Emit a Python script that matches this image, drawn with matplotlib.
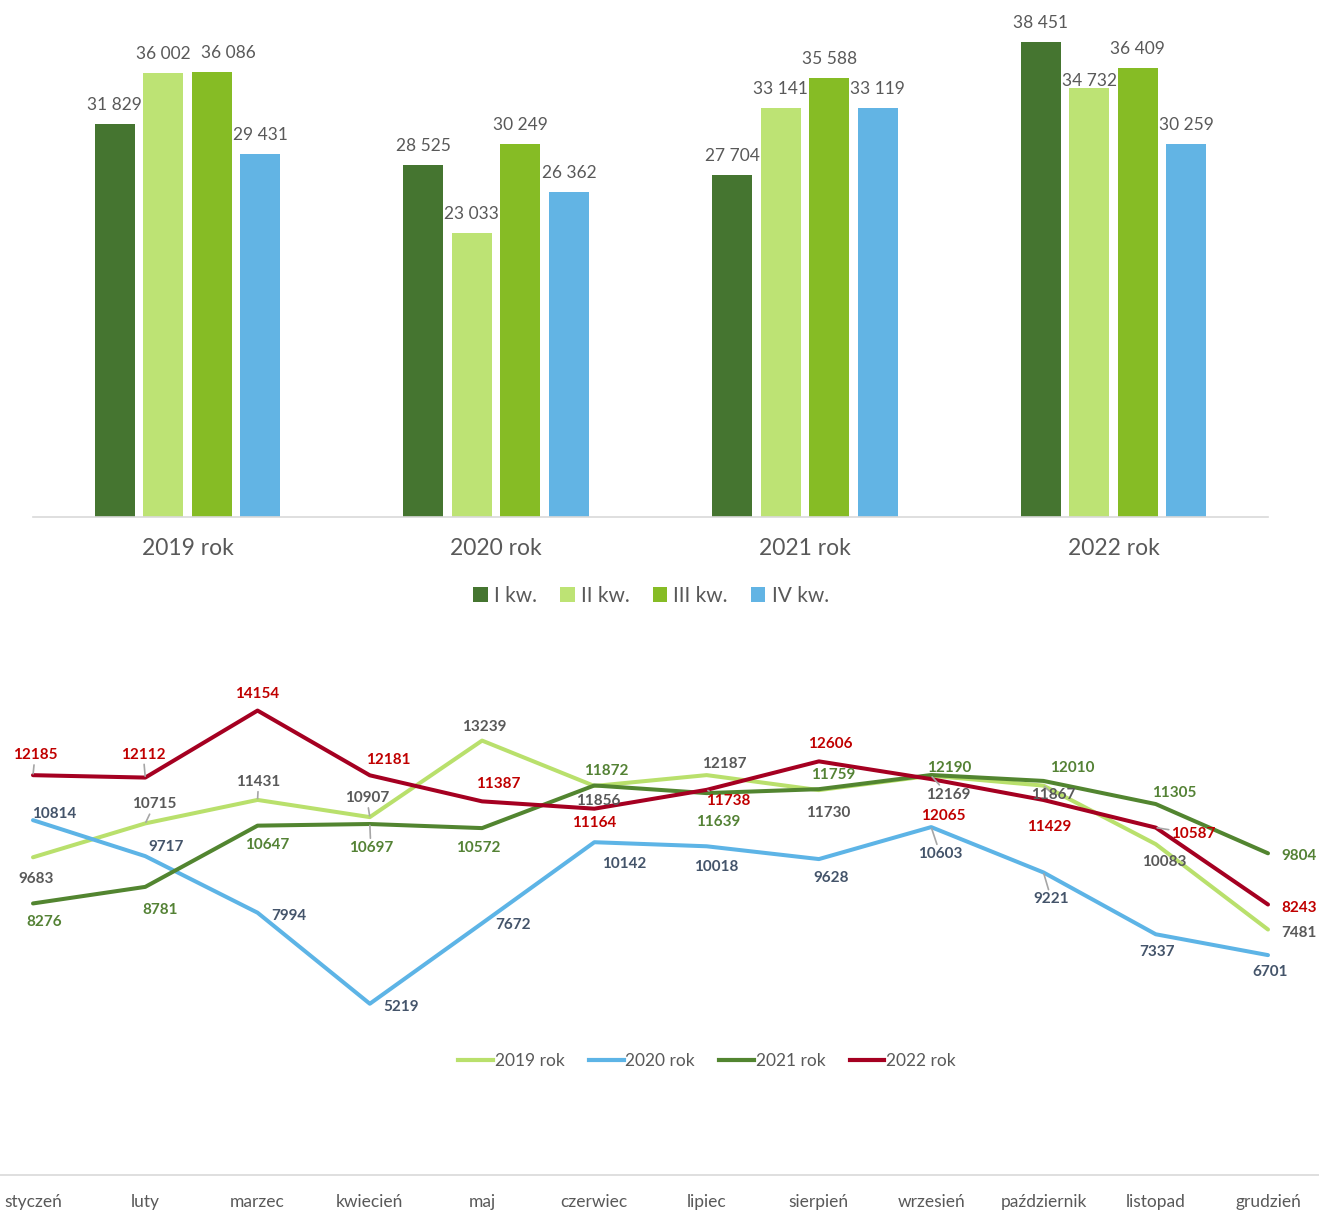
import matplotlib
matplotlib.use("Agg")
import matplotlib.pyplot as plt
import numpy as np
from matplotlib.lines import Line2D
from matplotlib.patches import Patch

plt.rcParams['font.family'] = ['Lato', 'DejaVu Sans']

# ---------------- data ----------------
years = ["2019 rok", "2020 rok", "2021 rok", "2022 rok"]
quarters = ["I kw.", "II kw.", "III kw.", "IV kw."]
q1 = [31829, 28525, 27704, 38451]
q2 = [36002, 23033, 33141, 34732]
q3 = [36086, 30249, 35588, 36409]
q4 = [29431, 26362, 33119, 30259]

months = ["styczeń", "luty", "marzec", "kwiecień", "maj", "czerwiec", "lipiec",
          "sierpień", "wrzesień", "październik", "listopad", "grudzień"]
y2019 = [9683, 10715, 11431, 10907, 13239, 11856, 12187, 11730, 12169, 11867, 10083, 7481]
y2020 = [10814, 9717, 7994, 5219, 7672, 10142, 10018, 9628, 10603, 9221, 7337, 6701]
y2021 = [8276, 8781, 10647, 10697, 10572, 11872, 11639, 11759, 12190, 12010, 11305, 9804]
y2022 = [12185, 12112, 14154, 12181, 11387, 11164, 11738, 12606, 12065, 11429, 10587, 8243]

# ---------------- styles ----------------
bar_colors = ["#457530", "#BDE374", "#86BC25", "#62B4E4"]
line_colors = ["#B9E06C", "#5DB4E6", "#528530", "#A50021"]
label_colors = ["#595959", "#44546A", "#548235", "#C00000"]
grey = "#595959"

W, H = 1319, 1211
fig = plt.figure(figsize=(W / 100, H / 100), dpi=100)

# ---------------- bar chart ----------------
axb = fig.add_axes([33 / W, 1 - 517 / H, (1268 - 33) / W, (517 - 11) / H])
x = np.arange(len(years))
bw = 0.13
offs = [-0.2355, -0.0785, 0.0785, 0.2355]
series = [q1, q2, q3, q4]
# label offsets (px) for special cases: (series, category) -> (dx, dy)
bar_lbl_special = {(2, 0): (17, 20), (1, 3): (0, 8)}
for si, (vals, off, col) in enumerate(zip(series, offs, bar_colors)):
    bars = axb.bar(x + off, vals, width=bw, color=col, label=quarters[si], zorder=2)
    for ci, (b, v) in enumerate(zip(bars, vals)):
        dx, dy = bar_lbl_special.get((si, ci), (0, 20))
        axb.annotate(f"{v:,}".replace(",", " "),
                     (b.get_x() + b.get_width() / 2, b.get_height()),
                     xytext=(dx, dy - 1), textcoords="offset pixels",
                     ha="center", va="center", fontsize=12.5, color=grey, zorder=3)
axb.set_xlim(-0.5, 3.5)
axb.set_ylim(0, 41000)
axb.set_yticks([])
axb.set_xticks(x)
axb.set_xticklabels(years, fontsize=16.5, color=grey)
axb.tick_params(axis="x", length=0, pad=15)
for s in ["top", "left", "right"]:
    axb.spines[s].set_visible(False)
axb.spines["bottom"].set_color("#D9D9D9")
axb.spines["bottom"].set_linewidth(1.2)

handles = [Patch(facecolor=c, edgecolor="none") for c in bar_colors]
fig.legend(handles, quarters, loc="center", bbox_to_anchor=(651 / W, 1 - 596 / H),
           ncol=4, frameon=False, fontsize=15, labelcolor=grey,
           handlelength=0.7, handleheight=0.7, handletextpad=0.3, columnspacing=1.1)

# ---------------- line chart ----------------
axl = fig.add_axes([0, 1 - 1175 / H, 1, (1175 - 650) / H])
px_per_unit = (1268 - 33) / 11
axl.set_xlim(-33 / px_per_unit, 11 + (W - 1268) / px_per_unit)
axl.set_ylim(0, 16000)
xm = np.arange(len(months))
lseries = [y2019, y2020, y2021, y2022]
lnames = years

# label offsets in screen pixels (dx right, dy down)
lbl_offsets = [
    [(3, 20), (9, -21), (1, -20), (-3, -21), (2, -16), (4, 13), (18, -13), (9, 21), (17, 17), (10, 7), (9, 16), (31, 1)],
    [(21, -8), (21, -11), (31, 1), (31, 1), (31, 0), (30, 20), (10, 19), (12, 17), (9, 25), (8, 25), (1, 16), (2, 15)],
    [(11, 17), (15, 21), (10, 17), (1, 22), (-4, 18), (12, -16), (12, 27), (14, -16), (18, -9), (29, -15), (19, -13), (31, 1)],
    [(2, -22), (-2, -25), (0, -19), (18, -17), (16, -19), (0, 12), (22, 9), (11, -19), (12, 35), (6, 25), (38, 4), (31, 1)],
]
# labels that have a leader line (series index, month index)
leaders = {(3, 0), (3, 1), (0, 1), (0, 2), (0, 3), (2, 3), (3, 6), (0, 8), (1, 8),
           (0, 9), (1, 9), (3, 10)}
for si, vals in enumerate(lseries):
    axl.plot(xm, vals, color=line_colors[si], lw=2.9, solid_capstyle="round",
             solid_joinstyle="round", label=lnames[si], zorder=2 + si)
for si, vals in enumerate(lseries):
    for mi, v in enumerate(vals):
        dx, dy = lbl_offsets[si][mi]
        ap = None
        if (si, mi) in leaders:
            ap = dict(arrowstyle="-", color="#A6A6A6", lw=1.2, shrinkA=0, shrinkB=1)
        axl.annotate(str(v), (xm[mi], v), xytext=(dx, -dy - 2), textcoords="offset pixels",
                     ha="center", va="center", fontsize=11, fontweight="bold",
                     color=label_colors[si], zorder=10, arrowprops=ap)

axl.set_yticks([])
axl.set_xticks(xm)
axl.set_xticklabels(months, fontsize=12.5, color=grey)
axl.tick_params(axis="x", length=0, pad=14)
for s in ["top", "left", "right"]:
    axl.spines[s].set_visible(False)
axl.spines["bottom"].set_color("#D9D9D9")
axl.spines["bottom"].set_linewidth(1.2)
axl.patch.set_alpha(0)

lh = [Line2D([0], [0], color=c, lw=3) for c in line_colors]
fig.legend(lh, lnames, loc="center", bbox_to_anchor=(707 / W, 1 - 1061 / H),
           ncol=4, frameon=False, fontsize=12.5, labelcolor=grey,
           handlelength=2.0, handletextpad=0.1, columnspacing=1.4)

fig.savefig("out.png", dpi=100)
